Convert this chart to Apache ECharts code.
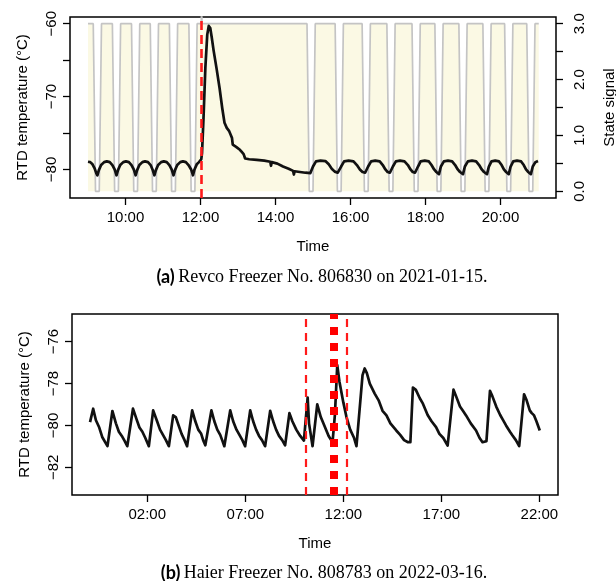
<!DOCTYPE html>
<html>
<head>
<meta charset="utf-8">
<script src="https://cdn.jsdelivr.net/npm/echarts@6.0.0/dist/echarts.min.js"></script>
<style>
html,body{margin:0;padding:0;background:#fff;}
#chart{width:616px;height:581px;}
</style>
</head>
<body>
<div id="chart"></div>
<script>
// panel (a): Revco freezer, hours of day
const tempA = [
  [9.00,-78.95],[9.06,-79.0],[9.12,-79.3],[9.18,-79.9],[9.22,-80.5],[9.25,-80.8],
  [9.29,-80.1],[9.35,-79.4],[9.43,-79.0],[9.50,-78.9],[9.58,-79.0],[9.65,-79.4],[9.71,-80.0],[9.76,-80.8],
  [9.80,-80.1],[9.86,-79.4],[9.94,-79.0],[10.01,-78.9],[10.09,-79.0],[10.16,-79.4],[10.22,-80.0],[10.27,-80.8],
  [10.31,-80.1],[10.37,-79.4],[10.45,-79.0],[10.52,-78.9],[10.60,-79.0],[10.67,-79.4],[10.72,-80.0],[10.77,-80.8],
  [10.81,-80.1],[10.87,-79.4],[10.95,-79.0],[11.02,-78.9],[11.10,-79.0],[11.17,-79.4],[11.23,-80.0],[11.28,-80.8],
  [11.32,-80.1],[11.38,-79.4],[11.46,-79.0],[11.53,-78.9],[11.61,-79.0],[11.68,-79.4],[11.75,-80.0],[11.80,-80.8],
  [11.84,-80.0],[11.90,-79.3],[11.96,-79.0],[12.02,-78.6],[12.04,-77.8],[12.08,-73.0],[12.13,-66.0],[12.18,-61.5],
  [12.22,-60.3],[12.26,-60.6],[12.30,-61.9],[12.35,-63.7],[12.43,-66.2],[12.51,-68.9],[12.58,-71.6],[12.64,-73.6],
  [12.70,-74.3],[12.76,-74.7],[12.81,-75.3],[12.84,-75.7],[12.86,-76.6],[12.95,-76.9],[13.05,-77.3],[13.10,-77.6],
  [13.15,-77.9],[13.19,-78.5],[13.30,-78.6],[13.50,-78.7],[13.70,-78.8],[13.86,-78.95],[13.88,-79.5],[13.90,-79.0],
  [14.05,-79.2],[14.20,-79.6],[14.35,-79.9],[14.47,-80.2],[14.49,-80.7],[14.51,-80.25],[14.65,-80.35],[14.80,-80.45],
  [14.93,-80.5],[14.95,-80.65],
  [15.00,-79.6],[15.08,-78.9],[15.20,-78.8],[15.33,-78.85],[15.42,-79.3],[15.50,-79.9],[15.58,-80.3],[15.66,-80.45],[15.70,-80.65],
  [15.75,-79.6],[15.83,-78.9],[15.95,-78.8],[16.08,-78.9],[16.17,-79.4],[16.25,-80.0],[16.32,-80.35],[16.39,-80.45],[16.42,-80.65],
  [16.47,-79.6],[16.55,-78.9],[16.66,-78.8],[16.78,-78.9],[16.86,-79.4],[16.93,-80.0],[16.99,-80.35],[17.05,-80.45],[17.08,-80.65],
  [17.13,-79.6],[17.21,-78.9],[17.32,-78.8],[17.44,-78.9],[17.53,-79.4],[17.60,-80.0],[17.66,-80.35],[17.72,-80.45],[17.75,-80.65],
  [17.80,-79.6],[17.87,-78.9],[17.98,-78.8],[18.09,-78.9],[18.16,-79.4],[18.23,-80.0],[18.29,-80.35],[18.33,-80.45],[18.36,-80.65],
  [18.41,-79.6],[18.49,-78.9],[18.60,-78.8],[18.71,-78.9],[18.79,-79.4],[18.86,-80.0],[18.92,-80.35],[18.97,-80.45],[19.00,-80.65],
  [19.05,-79.6],[19.13,-78.9],[19.24,-78.8],[19.35,-78.9],[19.43,-79.4],[19.50,-80.0],[19.56,-80.35],[19.61,-80.45],[19.64,-80.65],
  [19.69,-79.6],[19.76,-78.9],[19.86,-78.8],[19.96,-78.9],[20.03,-79.4],[20.09,-80.0],[20.15,-80.35],[20.19,-80.45],[20.22,-80.65],
  [20.27,-79.6],[20.34,-78.9],[20.44,-78.8],[20.55,-78.9],[20.62,-79.4],[20.68,-80.0],[20.74,-80.35],[20.78,-80.45],[20.81,-80.65],
  [20.86,-79.6],[20.93,-79.0],[21.00,-78.85]
];

const stateA = [
  [9.00,3],
  [9.14,3],[9.20,0],[9.30,0],[9.36,3],
  [9.65,3],[9.71,0],[9.81,0],[9.87,3],
  [10.16,3],[10.22,0],[10.32,0],[10.38,3],
  [10.66,3],[10.72,0],[10.82,0],[10.88,3],
  [11.17,3],[11.23,0],[11.33,0],[11.39,3],
  [11.69,3],[11.75,0],[11.85,0],[11.91,3],
  [12.02,3],[12.03,3.4],[12.04,3],
  [14.84,3],[14.90,0],[15.00,0],[15.06,3],
  [15.59,3],[15.65,0],[15.75,0],[15.81,3],
  [16.31,3],[16.37,0],[16.47,0],[16.53,3],
  [16.97,3],[17.03,0],[17.13,0],[17.19,3],
  [17.64,3],[17.70,0],[17.80,0],[17.86,3],
  [18.25,3],[18.31,0],[18.41,0],[18.47,3],
  [18.89,3],[18.95,0],[19.05,0],[19.11,3],
  [19.53,3],[19.59,0],[19.69,0],[19.75,3],
  [20.11,3],[20.17,0],[20.27,0],[20.33,3],
  [20.70,3],[20.76,0],[20.86,0],[20.92,3],
  [21.02,3]
];

const alarmA = [12.03];

const xTicksA = [10, 12, 14, 16, 18, 20];
const yTicksA = [-80, -75, -70, -65, -60];
const yLabelsA = [-80, -70, -60];
const stateTicks = [0, 0.5, 1, 1.5, 2, 2.5, 3];
const stateLabels = [0, 1, 2, 3];

// panel (b): Haier freezer
const tempB = [
  [-0.92,-79.84],[-0.76,-79.20],[-0.62,-79.75],[-0.45,-80.10],[-0.30,-80.55],[-0.20,-80.60],[-0.03,-80.99],
  [0.22,-79.31],[0.40,-79.90],[0.55,-80.30],[0.70,-80.50],[0.85,-80.75],[0.98,-80.99],
  [1.27,-79.20],[1.45,-79.70],[1.60,-80.10],[1.75,-80.30],[1.90,-80.60],[2.08,-80.99],
  [2.30,-79.28],[2.50,-79.80],[2.65,-80.20],[2.80,-80.45],[2.95,-80.70],[3.10,-80.99],
  [3.32,-79.52],[3.45,-79.60],[3.60,-80.00],[3.75,-80.40],[3.90,-80.70],[4.03,-80.99],
  [4.29,-79.28],[4.45,-79.80],[4.60,-80.20],[4.75,-80.40],[4.85,-80.70],[4.96,-80.95],
  [5.27,-79.28],[5.42,-79.80],[5.57,-80.20],[5.72,-80.45],[5.82,-80.70],[5.93,-80.99],
  [6.23,-79.28],[6.38,-79.80],[6.55,-80.20],[6.70,-80.45],[6.85,-80.70],[6.99,-80.99],
  [7.25,-79.28],[7.40,-79.80],[7.55,-80.20],[7.70,-80.50],[7.85,-80.70],[8.01,-80.99],
  [8.27,-79.30],[8.42,-79.80],[8.57,-80.20],[8.72,-80.50],[8.88,-80.70],[9.03,-80.95],
  [9.25,-79.41],[9.40,-79.80],[9.60,-80.20],[9.80,-80.50],[9.99,-80.72],
  [10.18,-78.67],[10.25,-79.90],[10.43,-80.99],
  [10.67,-78.99],[10.85,-79.60],[11.05,-80.05],[11.25,-80.50],[11.45,-80.80],
  [11.57,-79.50],[11.69,-77.12],[11.80,-77.90],[12.00,-78.90],[12.16,-79.60],[12.35,-80.20],[12.55,-80.60],[12.67,-80.99],
  [12.98,-77.60],[13.09,-77.28],[13.20,-77.50],[13.35,-78.00],[13.60,-78.48],[13.80,-78.80],[14.00,-79.30],
  [14.20,-79.52],[14.40,-79.90],[14.70,-80.24],[14.90,-80.45],[15.10,-80.70],[15.30,-80.80],[15.42,-80.80],
  [15.55,-78.19],[15.70,-78.30],[15.90,-78.70],[16.06,-78.96],[16.30,-79.50],[16.50,-79.80],[16.73,-80.08],
  [16.90,-80.40],[17.10,-80.60],[17.32,-80.96],
  [17.62,-78.29],[17.75,-78.60],[17.95,-79.10],[18.10,-79.30],[18.26,-79.52],[18.50,-79.90],[18.77,-80.24],
  [18.95,-80.60],[19.10,-80.80],[19.30,-80.75],
  [19.48,-78.35],[19.60,-78.60],[19.80,-79.10],[20.00,-79.50],[20.12,-79.70],[20.30,-80.00],[20.50,-80.30],
  [20.63,-80.48],[20.80,-80.70],[20.97,-80.99],
  [21.22,-78.51],[21.35,-78.80],[21.51,-79.28],[21.60,-79.40],[21.73,-79.52],[21.85,-79.80],[22.02,-80.24]
];

const alarmB = [10.08, 12.19];
const eventB = [11.53];

const xTicksB = [2, 7, 12, 17, 22];
const yTicksB = [-82, -80, -78, -76];

const FONT = 'Liberation Sans, Arial, sans-serif';
const minus = v => (v < 0 ? '\u2212' + Math.abs(v) : String(v));
const hhmm = v => (v < 10 ? '0' : '') + v + ':00';

function xAxisCfg(grid, min, max, ticks) {
  return {
    type: 'value', gridIndex: grid, min: min, max: max,
    name: 'Time', nameLocation: 'middle', nameGap: 41,
    nameTextStyle: {fontFamily: FONT, fontSize: 15, color: '#000'},
    axisLine: {show: false, onZero: false},
    axisTick: {show: true, length: 7, customValues: ticks, lineStyle: {color: '#000', width: 1.3}},
    axisLabel: {customValues: ticks, formatter: hhmm, margin: 12, fontFamily: FONT, fontSize: 15, color: '#000'},
    splitLine: {show: false}
  };
}

function yAxisCfg(grid, pos, min, max, ticks, labels, fmt, name, gap, margin) {
  return {
    type: 'value', gridIndex: grid, position: pos, min: min, max: max,
    name: name, nameLocation: 'middle', nameGap: gap, nameRotate: 90,
    nameTextStyle: {fontFamily: FONT, fontSize: 15, color: '#000'},
    axisLine: {show: false, onZero: false},
    axisTick: {show: true, length: 7, customValues: ticks, lineStyle: {color: '#000', width: 1.3}},
    axisLabel: {customValues: labels, formatter: fmt, rotate: 90, margin: margin, fontFamily: FONT, fontSize: 15, color: '#000'},
    splitLine: {show: false}
  };
}

const chart = echarts.init(document.getElementById('chart'));
chart.setOption({
  animation: false,
  backgroundColor: '#fff',
  grid: [
    {left: 70, right: 60, top: 17, height: 181, show: true, borderColor: '#000', borderWidth: 1.5, backgroundColor: 'transparent', outerBoundsMode: 'none'},
    {left: 72, right: 58, top: 314, height: 181, show: true, borderColor: '#000', borderWidth: 1.5, backgroundColor: 'transparent', outerBoundsMode: 'none'}
  ],
  xAxis: [
    xAxisCfg(0, 8.52, 21.48, xTicksA),
    xAxisCfg(1, -1.84, 22.95, xTicksB)
  ],
  yAxis: [
    yAxisCfg(0, 'left', -83.92, -59.08, yTicksA, yLabelsA, minus, 'RTD temperature (\u00B0C)', 40, 11),
    yAxisCfg(0, 'right', -0.12, 3.12, stateTicks, stateLabels, v => v.toFixed(1), 'State signal', 46, 16),
    yAxisCfg(1, 'left', -83.32, -74.68, yTicksB, yTicksB, minus, 'RTD temperature (\u00B0C)', 40, 11)
  ],
  series: [
    {
      type: 'line', xAxisIndex: 0, yAxisIndex: 1, data: stateA, symbol: 'none', z: 1,
      lineStyle: {color: '#c4c4c4', width: 1.7},
      areaStyle: {color: '#fbf9e4', opacity: 1, origin: 0}
    },
    {
      type: 'line', xAxisIndex: 0, yAxisIndex: 0, data: tempA, symbol: 'none', z: 2,
      lineStyle: {color: '#111', width: 2.7, join: 'round'},
      markLine: {
        silent: true, symbol: ['none', 'none'], label: {show: false},
        lineStyle: {color: '#ff1a1a', width: 2.6, type: [9, 5]},
        data: alarmA.map(t => ({xAxis: t}))
      }
    },
    {
      type: 'line', xAxisIndex: 1, yAxisIndex: 2, data: tempB, symbol: 'none', z: 2,
      lineStyle: {color: '#111', width: 2.7, join: 'round'},
      markLine: {
        silent: true, symbol: ['none', 'none'], label: {show: false},
        data: alarmB.map(t => ({xAxis: t, lineStyle: {color: '#ff1a1a', width: 2.2, type: [8, 6]}}))
          .concat(eventB.map(t => ({xAxis: t, lineStyle: {color: '#ff0000', width: 8, type: [8, 8]}})))
      }
    }
  ],
  graphic: [
    {
      type: 'text', x: 322, y: 277,
      style: {
        text: '{b|(a)} {t|Revco Freezer No. 806830 on 2021-01-15.}',
        align: 'center', verticalAlign: 'middle',
        rich: {
          b: {fontFamily: 'Lato, sans-serif', fontWeight: 'bold', fontSize: 18, fill: '#000'},
          t: {fontFamily: 'Liberation Serif, serif', fontSize: 18, fill: '#000'}
        }
      }
    },
    {
      type: 'text', x: 324, y: 573,
      style: {
        text: '{b|(b)} {t|Haier Freezer No. 808783 on 2022-03-16.}',
        align: 'center', verticalAlign: 'middle',
        rich: {
          b: {fontFamily: 'Lato, sans-serif', fontWeight: 'bold', fontSize: 18, fill: '#000'},
          t: {fontFamily: 'Liberation Serif, serif', fontSize: 18, fill: '#000'}
        }
      }
    }
  ]
});
</script>
</body>
</html>
